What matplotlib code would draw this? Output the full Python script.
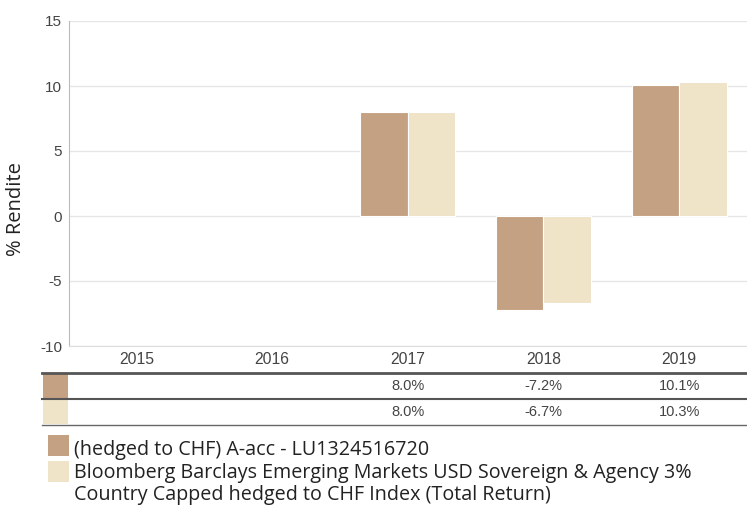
import numpy as np
import matplotlib
matplotlib.use("Agg")
import matplotlib.pyplot as plt
from matplotlib.patches import Rectangle
from matplotlib.lines import Line2D
import matplotlib.transforms as mtransforms

plt.rcParams["axes.unicode_minus"] = False

# data
years = ["2015", "2016", "2017", "2018", "2019"]
fund = [np.nan, np.nan, 8.0, -7.2, 10.1]
bench = [np.nan, np.nan, 8.0, -6.7, 10.3]
fund_name = "(hedged to CHF) A-acc - LU1324516720"
bench_name = ("Bloomberg Barclays Emerging Markets USD Sovereign & Agency 3%\n"
              "Country Capped hedged to CHF Index (Total Return)")

c_fund = "#C4A182"
c_bench = "#EFE3C8"

W, H = 747, 505
fig = plt.figure(figsize=(W / 100, H / 100), dpi=100)

def fx(px):
    return px / W

def fy(py):
    return 1 - py / H

# main plot area in pixels: x 68..747, y 21..346
ax = fig.add_axes([fx(68.5), fy(346), fx(747 - 68.5), (346 - 21) / H])
x = np.arange(len(years))
bw = 0.35
ax.bar(x - bw / 2, fund, bw, color=c_fund, edgecolor="white", linewidth=0.8, zorder=3)
ax.bar(x + bw / 2, bench, bw, color=c_bench, edgecolor="white", linewidth=0.8, zorder=3)

ax.set_xlim(-0.5, len(years) - 0.5)
ax.set_ylim(-10, 15)
ax.set_yticks([-10, -5, 0, 5, 10, 15])
ax.grid(axis="y", color="#E6E6E6", linewidth=1, zorder=0)
ax.set_xticks(x)
ax.set_xticklabels(years)
ax.tick_params(axis="x", length=0, pad=4, labelsize=11.3, labelcolor="#444444")
ax.tick_params(axis="y", length=0, pad=4.5, labelsize=11, labelcolor="#444444")
for lab in ax.get_xticklabels() + ax.get_yticklabels():
    lab.set_family("Liberation Sans")
for s in ["top", "right"]:
    ax.spines[s].set_visible(False)
ax.spines["left"].set_color("#BBBBBB")
ax.spines["bottom"].set_color("#DDDDDD")
fig.text(fx(16), fy(209), "% Rendite", rotation=90, ha="center", va="center",
         fontsize=14.5, family="Open Sans", color="#222222")

# table below the chart
blend = mtransforms.blended_transform_factory(ax.transData, fig.transFigure)
for py, lw, col in [(372.5, 2, "#555555"), (399, 1.5, "#555555"), (425, 1, "#666666")]:
    fig.add_artist(Line2D([fx(42), 1], [fy(py), fy(py)], transform=fig.transFigure,
                          color=col, linewidth=lw))
rows = [(fund, c_fund, 373.5, 398.2), (bench, c_bench, 400, 424.3)]
for vals, col, top, bot in rows:
    fig.add_artist(Rectangle((fx(43), fy(bot)), fx(68 - 43), (bot - top) / H,
                             transform=fig.transFigure, color=col, linewidth=0))
    for i, v in enumerate(vals):
        if not np.isnan(v):
            fig.text(i, fy((top + bot) / 2), f"{v:.1f}%", transform=blend,
                     ha="center", va="center", fontsize=10.5, color="#444444",
                     family="Liberation Sans")

# legend
leg = [(fund_name, c_fund, 435, 456, 455), (bench_name, c_bench, 461, 482, 478)]
for name, col, top, bot, base in leg:
    fig.add_artist(Rectangle((fx(48), fy(bot)), fx(69 - 48), (bot - top) / H,
                             transform=fig.transFigure, color=col, linewidth=0))
    for k, line in enumerate(name.split("\n")):
        fig.text(fx(74), fy(base + 22 * k), line, ha="left", va="baseline",
                 fontsize=14.2, family="Open Sans", color="#222222")

fig.savefig("out.png", dpi=100)
